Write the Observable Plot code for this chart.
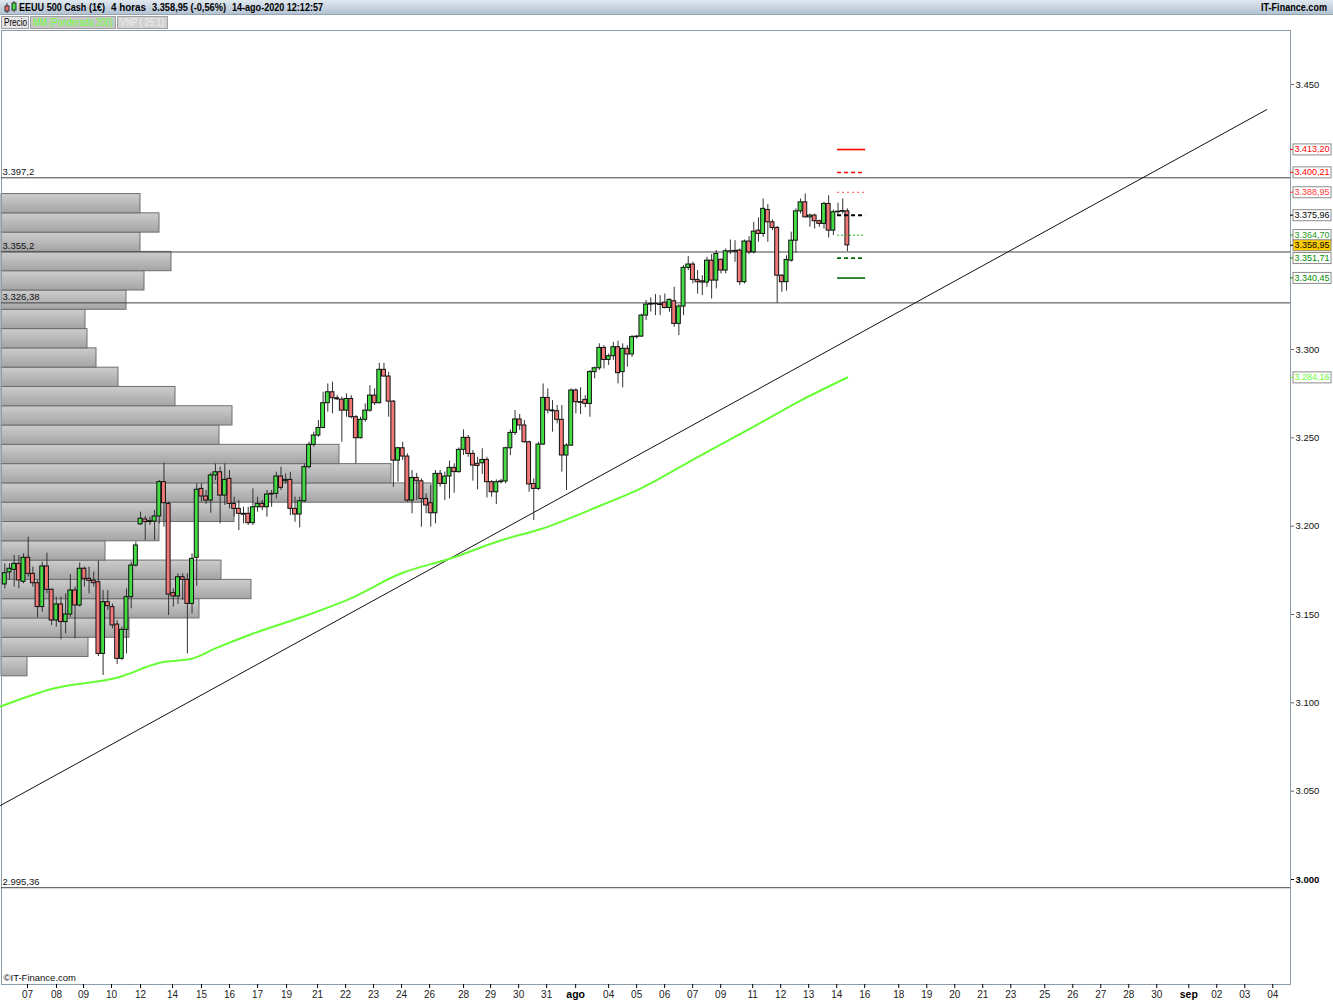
<!DOCTYPE html>
<html><head><meta charset="utf-8">
<script src="https://cdn.jsdelivr.net/npm/d3@7"></script>
<script src="https://cdn.jsdelivr.net/npm/@observablehq/plot@0.6"></script>
<style>
body{margin:0;background:#fff;font-family:"Liberation Sans",Arial,sans-serif;}
#wrap{position:relative;width:1333px;height:1000px;overflow:hidden;background:#fff;}
#h1{position:absolute;left:0;top:0;width:1333px;height:15px;background:linear-gradient(#e0e8f0,#b3c2d1);border-bottom:1px solid #93a4b5;box-sizing:border-box;font-weight:bold;font-size:11px;line-height:14px;color:#000;}
#h1 .t{position:absolute;top:0;white-space:nowrap;display:inline-block;transform-origin:0 50%;}
#h2{position:absolute;left:0;top:15px;width:1333px;height:15px;font-size:11px;line-height:11px;}
#h2 .box{position:absolute;top:1px;height:13px;box-sizing:border-box;border:1px solid #a0a0a0;overflow:hidden;}
#h2 .t{position:absolute;left:2px;top:0px;white-space:nowrap;display:inline-block;transform-origin:0 50%;}
.layer{position:absolute;left:0;top:30px;}
</style></head>
<body><div id="wrap">
<div id="h1">
<svg style="position:absolute;left:3px;top:1px" width="15" height="13"><line x1="4" y1="2" x2="4" y2="12" stroke="#333"/><rect x="2" y="5" width="4" height="5" fill="#f07070" stroke="#333"/><line x1="11" y1="0" x2="11" y2="11" stroke="#333"/><rect x="9" y="2" width="4" height="7" fill="#44dd44" stroke="#333"/></svg>
<span class="t" data-w="86" style="left:19px">EEUU 500 Cash (1€)</span>
<span class="t" data-w="35" style="left:111px">4 horas</span>
<span class="t" data-w="74" style="left:152px">3.358,95 (-0,56%)</span>
<span class="t" data-w="91" style="left:232px">14-ago-2020 12:12:57</span>
<span class="t" data-w="66" style="left:1261px">IT-Finance.com</span>
</div>
<div id="h2">
<div class="box" style="left:1px;width:28px;background:#e6e6e6"><span class="t" data-w="23" style="color:#000">Precio</span></div>
<div class="box" style="left:30px;width:86px;background:#c8c8c8"><span class="t" data-w="80" style="color:#66ff33">MM (Ponderada 200)</span></div>
<div class="box" style="left:117px;width:51px;background:#d2d2d2"><span class="t" data-w="44" style="color:#ededed">VNP ( 25 1)</span></div>
</div>
<div id="vpLayer" class="layer"></div>
<div id="mainLayer" class="layer"></div>
</div>
<script>
// ---- Candles (4h bars) ----
const opens = [3167.0,3173.8,3175.3,3178.7,3168.5,3182.1,3173.0,3167.7,3154.2,3177.2,3164.0,3146.6,3155.7,3145.7,3150.0,3163.6,3155.1,3175.9,3170.2,3169.1,
3168.3,3127.7,3157.0,3154.2,3144.3,3124.9,3141.3,3159.8,3177.7,3201.0,3203.8,3202.3,3202.6,3205.5,3224.9,3212.6,3162.1,3160.2,3171.1,3169.6,
3156.0,3182.1,3221.1,3216.8,3214.5,3228.7,3230.5,3217.3,3226.8,3212.6,3209.8,3207.0,3207.0,3201.7,3210.7,3212.6,3210.7,3217.9,3218.3,3228.1,
3225.4,3226.2,3209.8,3206.6,3214.1,3233.4,3246.0,3251.3,3255.6,3269.6,3275.8,3272.4,3271.6,3265.4,3272.0,3261.7,3249.8,3260.2,3265.4,3273.9,
3269.6,3288.5,3284.7,3270.5,3237.1,3244.1,3239.4,3214.5,3227.3,3225.4,3215.4,3213.0,3207.3,3229.6,3223.9,3228.1,3233.0,3230.6,3243.2,3250.0,
3240.9,3235.3,3235.6,3237.5,3224.9,3219.2,3224.9,3225.3,3244.1,3252.8,3260.4,3257.0,3247.5,3223.9,3221.1,3246.2,3272.6,3265.5,3265.1,3260.2,
3240.0,3245.6,3276.8,3270.2,3271.5,3269.2,3287.2,3289.4,3300.9,3294.1,3296.2,3301.3,3287.2,3300.4,3297.2,3307.0,3307.3,3319.2,3325.4,3325.8,
3325.6,3326.5,3323.5,3327.3,3314.5,3324.3,3346.2,3348.1,3339.4,3338.6,3337.9,3350.3,3339.0,3350.8,3344.7,3355.6,3355.4,3356.0,3338.1,3361.1,
3355.0,3367.3,3365.4,3379.0,3372.0,3368.8,3341.8,3338.1,3350.3,3361.6,3378.2,3383.3,3374.8,3375.8,3372.6,3371.1,3382.4,3367.3,3377.7,3378.0,
3378.2];
const highs = [3178.7,3178.7,3183.4,3183.4,3184.3,3193.8,3176.8,3169.3,3179.6,3184.7,3164.5,3159.8,3159.8,3161.7,3172.6,3165.5,3179.1,3176.8,3176.8,3174.0,
3180.2,3163.6,3163.6,3156.0,3146.6,3142.8,3164.5,3179.6,3191.0,3207.9,3205.5,3205.1,3208.9,3225.9,3235.7,3213.6,3164.5,3173.0,3173.0,3173.0,
3184.3,3224.0,3224.0,3220.2,3230.0,3235.2,3233.4,3235.2,3231.5,3216.4,3214.5,3210.7,3210.7,3221.1,3216.4,3214.5,3220.2,3220.2,3230.5,3233.4,
3229.6,3230.5,3216.4,3216.4,3235.2,3247.5,3253.2,3259.8,3275.8,3280.5,3281.5,3273.9,3273.0,3274.9,3273.9,3262.6,3261.7,3269.2,3279.6,3277.7,
3292.2,3292.2,3287.1,3271.1,3244.7,3247.5,3240.9,3231.5,3229.9,3226.8,3218.3,3223.0,3231.5,3231.5,3230.6,3236.8,3235.3,3244.3,3254.5,3251.3,
3242.8,3239.0,3243.8,3239.0,3225.8,3226.2,3226.6,3244.7,3254.5,3265.5,3263.2,3259.8,3248.1,3226.8,3247.5,3280.5,3277.7,3271.1,3268.3,3268.3,
3246.6,3277.7,3277.7,3278.3,3273.9,3288.1,3290.0,3303.2,3302.2,3297.5,3304.1,3304.7,3303.2,3302.2,3307.9,3308.0,3320.1,3327.7,3329.2,3331.1,
3330.5,3331.4,3328.6,3335.2,3325.4,3347.5,3352.6,3349.4,3344.7,3341.8,3352.2,3353.7,3356.0,3351.2,3356.9,3362.0,3361.6,3356.9,3362.0,3363.9,
3372.0,3374.5,3385.2,3382.0,3373.3,3369.6,3342.4,3353.1,3366.4,3379.6,3385.2,3388.1,3376.7,3376.7,3373.3,3383.3,3387.1,3379.0,3382.8,3385.2,
3379.6];
const lows = [3164.5,3169.3,3165.5,3164.5,3167.4,3171.1,3165.5,3148.1,3151.3,3161.7,3143.8,3142.8,3135.7,3139.1,3148.5,3136.2,3154.2,3165.5,3161.7,3165.5,
3126.2,3115.5,3152.3,3141.9,3121.7,3124.0,3127.7,3153.2,3176.8,3200.4,3191.9,3200.4,3191.9,3201.3,3199.4,3149.4,3154.2,3155.7,3157.9,3127.7,
3150.4,3165.9,3213.6,3212.3,3207.4,3225.8,3201.3,3211.7,3209.8,3205.1,3197.5,3201.3,3200.4,3200.4,3207.9,3208.8,3205.1,3210.7,3215.4,3220.2,
3223.9,3206.0,3202.2,3199.0,3213.5,3232.4,3244.7,3250.3,3255.1,3264.5,3263.6,3271.1,3247.5,3261.7,3260.7,3235.2,3249.4,3258.8,3264.5,3268.3,
3269.2,3284.3,3261.7,3222.0,3224.9,3237.1,3213.5,3207.0,3214.5,3199.4,3207.0,3199.4,3201.3,3222.1,3214.5,3215.4,3218.7,3230.0,3240.0,3239.0,
3225.5,3220.6,3229.2,3216.0,3216.4,3212.2,3223.9,3224.0,3240.0,3251.3,3254.1,3247.0,3219.2,3203.2,3220.2,3245.6,3263.6,3253.2,3257.9,3230.6,
3220.2,3245.1,3263.6,3263.2,3267.0,3261.7,3283.4,3288.1,3289.0,3290.9,3293.8,3280.5,3278.3,3290.0,3295.6,3306.0,3306.9,3316.4,3321.1,3319.2,
3319.2,3323.0,3321.1,3312.6,3307.9,3319.2,3344.7,3337.1,3331.4,3330.5,3335.2,3328.6,3334.3,3342.8,3342.8,3353.7,3349.4,3336.2,3337.1,3353.7,
3354.1,3360.7,3363.5,3360.7,3367.3,3326.2,3332.4,3333.0,3349.4,3354.5,3376.7,3374.5,3369.2,3368.2,3369.2,3368.2,3363.1,3364.5,3375.8,3376.7,
3355.4];
const closes = [3173.4,3175.9,3178.7,3169.3,3182.1,3173.0,3167.7,3154.2,3177.2,3164.0,3146.6,3155.7,3145.7,3150.0,3163.6,3155.1,3175.9,3170.2,3169.1,3167.7,
3127.7,3157.0,3154.7,3143.8,3124.9,3141.3,3159.8,3177.7,3189.1,3204.2,3202.3,3202.8,3205.5,3224.9,3213.0,3161.3,3160.2,3171.1,3169.6,3156.0,
3181.5,3220.6,3216.8,3214.5,3228.7,3230.5,3217.3,3226.2,3212.6,3209.8,3207.0,3206.5,3201.7,3210.7,3212.6,3210.7,3217.9,3218.3,3228.1,3221.7,
3226.2,3209.8,3206.6,3214.1,3233.4,3246.0,3251.3,3255.6,3269.6,3275.8,3272.4,3271.8,3265.4,3272.0,3261.7,3249.8,3260.2,3265.4,3273.9,3269.6,
3288.5,3284.7,3270.5,3237.1,3244.1,3239.4,3214.5,3227.3,3225.4,3215.4,3211.7,3207.3,3229.6,3223.9,3228.1,3233.0,3230.6,3243.2,3250.0,3240.9,
3234.3,3234.1,3237.5,3224.9,3219.2,3224.9,3225.3,3244.1,3252.8,3260.4,3257.0,3247.5,3223.6,3221.1,3246.2,3272.6,3265.5,3265.0,3260.2,3240.0,
3245.6,3276.8,3270.2,3269.8,3269.2,3287.2,3289.4,3300.9,3294.1,3296.2,3301.3,3286.6,3300.4,3297.2,3307.0,3307.3,3319.2,3325.4,3325.8,3325.6,
3325.2,3323.5,3328.1,3314.5,3324.3,3346.2,3348.1,3339.4,3338.1,3337.9,3350.3,3339.0,3354.1,3344.7,3355.6,3355.4,3355.8,3338.1,3361.1,3355.0,
3366.7,3365.4,3379.6,3372.0,3368.8,3341.8,3338.1,3350.7,3361.6,3378.2,3383.3,3374.8,3375.8,3372.6,3371.1,3382.4,3367.3,3377.7,3378.0,3378.4,
3358.95];

// ---- Weighted moving average 200 (sampled points: bar index, value) ----
const maIdx = [0.1, 11.4, 25.1, 34.3, 41.1, 46.0, 53.5, 64.2, 74.9, 85.6, 96.2, 106.9, 115.9, 128.3, 136.8, 149.6, 160.3, 171.0, 181.0];
const maVal = [3097.9, 3108.1, 3114.3, 3122.8, 3125.1, 3130.8, 3138.7, 3148.3, 3159.1, 3173.2, 3181.7, 3191.9, 3198.7, 3211.7, 3221.3, 3240.0, 3255.3, 3271.1, 3284.16];

// ---- Trend line (two anchor points: bar index, price) ----
const trendIdx = [0.08, 270.6];
const trendVal = [3041.9, 3435.8];

// ---- Horizontal support / resistance lines ----
const hLines = [3397.2, 3355.2, 3326.38, 2995.36];

// ---- Pivot levels at the right ----
const levelValues = [3413.20, 3400.21, 3388.95, 3375.96, 3364.70, 3351.71, 3340.45];
const lastPrice = 3358.95;
const maLast = 3284.16;

// ---- Volume profile (price bands from bottom, relative volume) ----
const vpStart = 3115.0, vpStep = 10.92;
const vpVolumes = [26, 87, 128, 198, 250, 220, 104, 158, 233, 430, 390, 338, 218, 231, 174, 117, 95, 86, 84, 125, 143, 170, 139, 158, 139];

// ---- Axes ----
const yTicks = [3450, 3300, 3250, 3200, 3150, 3100, 3050];
const yTicksBold = [3000];
const dayTicks = [5.85,12.05,17.82,23.8,30.0,36.83,43.03,49.01,55.0,61.19,67.82,73.8,79.78,85.76,91.75,99.01,104.78,110.77,116.75,122.95,
130.0,135.98,141.96,147.95,153.93,160.77,166.75,172.73,178.72,184.7,191.97,197.95,203.93,209.91,215.9,223.16,229.15,235.13,241.11,247.09,
253.93,259.91,265.89,271.87];
const dayLabels = ["07","08","09","10","12","14","15","16","17","19","21","22","23","24","26","28","29","30","31","ago",
"04","05","06","07","09","11","12","13","14","16","18","19","20","21","23","25","26","27","28","30",
"sep","02","03","04"];

// ---------------------------------------------------------------
// fit header texts to the widths they have in the reference
document.querySelectorAll("#h1 .t, #h2 .t").forEach(el => {
  const w = +el.dataset.w, a = el.getBoundingClientRect().width;
  if (a > 0) el.style.transform = `scaleX(${w / a})`;
});

const W = 1333, H = 970;
const M = {marginLeft: 1, marginRight: 43, marginTop: 0, marginBottom: 16};
const xDomain = [0.295, 275.66];
const yDomain = [2940.57, 3480.57];
const FONT = "Liberation Sans, Arial, sans-serif";

const loc = d3.formatLocale({decimal: ",", thousands: ".", grouping: [3], currency: ["", ""]});
const fmtAxis = loc.format(",.0f");
const fmt2 = loc.format(",.2f");
const fmtTrim = loc.format(",.2~f");

const candles = opens.map((o, k) => ({i: k + 1, o, h: highs[k], l: lows[k], c: closes[k]}));
const ma = maIdx.map((x, k) => ({x, y: maVal[k]}));
const trend = trendIdx.map((x, k) => ({x, y: trendVal[k]}));
const vp = vpVolumes.map((v, k) => ({v, lo: vpStart + k * vpStep, hi: vpStart + (k + 1) * vpStep}));
const tickLabel = new Map(dayTicks.map((t, k) => [t, dayLabels[k]]));
const boldLabels = new Set(["ago", "sep"]);

// Volume profile layer
const vpPlot = Plot.plot({
  width: W, height: H, ...M,
  style: {background: "transparent", fontFamily: FONT},
  x: {domain: [0, 1289], axis: null},
  y: {domain: yDomain, axis: null},
  marks: [
    Plot.rect(vp, {x1: 0, x2: "v", y1: "lo", y2: "hi", fill: "url(#vpgrad)", stroke: "#6e6e6e", strokeWidth: 1})
  ]
});
const defs = d3.create("svg:defs");
const grad = defs.append("linearGradient").attr("id", "vpgrad").attr("x1", 0).attr("y1", 0).attr("x2", 0).attr("y2", 1);
grad.append("stop").attr("offset", "0%").attr("stop-color", "#cdcdcd");
grad.append("stop").attr("offset", "100%").attr("stop-color", "#a4a4a4");
vpPlot.insertBefore(defs.node(), vpPlot.firstChild);
document.getElementById("vpLayer").append(vpPlot);

// Pivot level styles
const levelStyle = [
  {stroke: "#ff0000", dash: null, w: 1.6, text: "#ff0000"},
  {stroke: "#ff0000", dash: "4,3", w: 1.6, text: "#ff0000"},
  {stroke: "#ff6f6f", dash: "2,3", w: 1.2, text: "#ff3a3a"},
  {stroke: "#000000", dash: "4,3", w: 2, text: "#000000"},
  {stroke: "#22aa22", dash: "2,2", w: 1, text: "#1d9a1d"},
  {stroke: "#006a00", dash: "4,3", w: 1.6, text: "#008a00"},
  {stroke: "#006a00", dash: null, w: 1.6, text: "#008a00"}
];
const nBars = candles.length;
const LBL = 9;

const marks = [
  Plot.frame({stroke: "#8a9bac"}),
  Plot.ruleY(hLines, {stroke: "#444", strokeWidth: 1}),
  Plot.text(hLines, {y: d => d, text: d => fmtTrim(d), frameAnchor: "left", dx: 1, dy: -6, textAnchor: "start", fontSize: 9.5, fill: "#111"}),
  Plot.line(trend, {x: "x", y: "y", stroke: "#111", strokeWidth: 1}),
  Plot.line(ma, {x: "x", y: "y", stroke: "#66ff33", strokeWidth: 2, curve: "monotone-x"}),
  Plot.ruleX(candles, {x: "i", y1: "l", y2: "h", stroke: "#333", strokeWidth: 1}),
  Plot.rect(candles, {
    x1: d => d.i - 0.42, x2: d => d.i + 0.42,
    y1: d => Math.min(d.o, d.c), y2: d => Math.max(d.o, d.c),
    fill: d => d.c >= d.o ? "#44dd44" : "#f27878", stroke: "#111", strokeWidth: 1
  }),
  ...levelValues.map((v, k) => Plot.ruleY([v], {
    x1: nBars - 2.1, x2: nBars + 3.9, stroke: levelStyle[k].stroke,
    strokeWidth: levelStyle[k].w, strokeDasharray: levelStyle[k].dash
  })),
  Plot.axisY(yTicks, {anchor: "right", tickSize: 3, tickPadding: 2, tickFormat: fmtAxis, fontSize: 9.5, fill: "#111", stroke: "#666"}),
  Plot.axisY(yTicksBold, {anchor: "right", tickSize: 3, tickPadding: 2, tickFormat: fmtAxis, fontSize: 9.5, fontWeight: "bold", fill: "#000"}),
  Plot.axisX(dayTicks.filter(t => !boldLabels.has(tickLabel.get(t))), {anchor: "bottom", tickSize: 4, tickPadding: 2, tickFormat: t => tickLabel.get(t), fontSize: 10, fill: "#222"}),
  Plot.axisX(dayTicks.filter(t => boldLabels.has(tickLabel.get(t))), {anchor: "bottom", tickSize: 4, tickPadding: 2, tickFormat: t => tickLabel.get(t), fontSize: 10.5, fontWeight: "bold", fill: "#000"}),
  ...levelValues.map((v, k) => Plot.text([v], {y: d => d, text: d => fmt2(d), frameAnchor: "right", dx: 4, textAnchor: "start", fontSize: LBL, fill: levelStyle[k].text})),
  Plot.text([lastPrice], {y: d => d, text: d => fmt2(d), frameAnchor: "right", dx: 4, textAnchor: "start", fontSize: LBL, fill: "#000"}),
  Plot.text([maLast], {y: d => d, text: d => fmt2(d), frameAnchor: "right", dx: 4, textAnchor: "start", fontSize: LBL, fill: "#66ff33"}),
  Plot.text(["©IT-Finance.com"], {text: d => d, frameAnchor: "bottom-left", dx: 2, dy: -4, textAnchor: "start", fontSize: 9.5, fill: "#111"})
];

const mainPlot = Plot.plot({
  width: W, height: H, ...M,
  style: {background: "transparent", fontFamily: FONT, overflow: "visible"},
  x: {domain: xDomain},
  y: {domain: yDomain},
  marks
});
document.getElementById("mainLayer").append(mainPlot);

// label boxes behind the right-side level labels (matched by their text)
const boxSpec = new Map();
levelValues.forEach((v, k) => boxSpec.set(fmt2(v), {fill: "#ffffff", tick: levelStyle[k].text}));
boxSpec.set(fmt2(lastPrice), {fill: "#ffcc00", tick: "#000"});
boxSpec.set(fmt2(maLast), {fill: "#ffffff", tick: "#66ff33"});
const ns = "http://www.w3.org/2000/svg";
mainPlot.querySelectorAll("text").forEach(t => {
  const spec = boxSpec.get(t.textContent);
  if (!spec) return;
  const b = t.getBBox();
  const tr = t.getAttribute("transform");
  const r = document.createElementNS(ns, "rect");
  r.setAttribute("x", b.x - 1.5); r.setAttribute("y", b.y - 0.5);
  r.setAttribute("width", b.width + 3); r.setAttribute("height", b.height + 1);
  r.setAttribute("fill", spec.fill); r.setAttribute("stroke", "#8c8c8c"); r.setAttribute("stroke-width", 1);
  if (tr) r.setAttribute("transform", tr);
  t.parentNode.insertBefore(r, t);
  const l = document.createElementNS(ns, "line");
  l.setAttribute("x1", b.x - 4.5); l.setAttribute("x2", b.x - 1.5);
  l.setAttribute("y1", b.y + b.height / 2); l.setAttribute("y2", b.y + b.height / 2);
  l.setAttribute("stroke", spec.tick);
  if (tr) l.setAttribute("transform", tr);
  t.parentNode.insertBefore(l, t);
});
</script>
</body></html>
